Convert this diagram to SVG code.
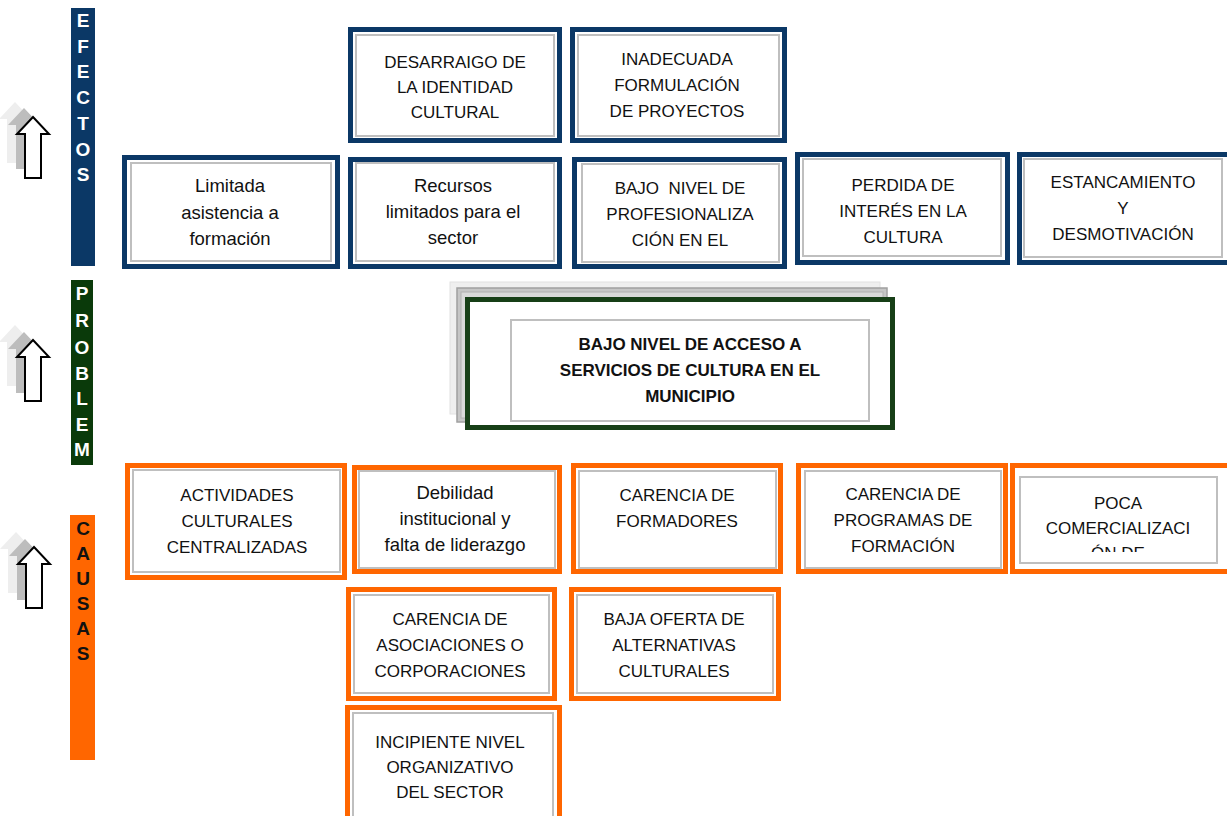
<svg xmlns="http://www.w3.org/2000/svg" width="1227" height="816" viewBox="0 0 1227 816">
<style>
.bg{fill:#ffffff}
.ob{fill:#ffffff;stroke:#0b3866;stroke-width:5}
.oo{fill:#ffffff;stroke:#ff6600;stroke-width:5}
.og{fill:#ffffff;stroke:#173f17;stroke-width:5}
.in{fill:#ffffff;stroke:#bfbfbf;stroke-width:2}
.t{font-family:"Liberation Sans",Arial,sans-serif;font-size:17px;fill:#111111;text-anchor:middle;white-space:pre}
.tl{font-family:"Liberation Sans",Arial,sans-serif;font-size:18.5px;fill:#111111;text-anchor:middle}
.tb{font-family:"Liberation Sans",Arial,sans-serif;font-size:17px;font-weight:bold;fill:#111111;text-anchor:middle}
.lbl{font-family:"Liberation Sans",Arial,sans-serif;font-size:19px;font-weight:bold;text-anchor:middle}
.arr{fill:#ffffff;stroke:#000000;stroke-width:2}
.sh1{fill:#bdbdbd}
.sh2{fill:#eeeeee}
</style>
<defs>
<path id="arrow" d="M0,0 L16,17 L8,17 L8,61 L-8,61 L-8,17 L-16,17 Z"/>
<clipPath id="cpProb"><rect x="71" y="280" width="22" height="185"/></clipPath>
<clipPath id="cpPoca"><rect x="1020" y="477" width="197" height="75"/></clipPath>
</defs>
<rect class="bg" x="0" y="0" width="1227" height="816"/>

<g id="arrows">
<use href="#arrow" class="sh2" transform="translate(15,102)"/>
<use href="#arrow" class="sh1" transform="translate(24,108)"/>
<use href="#arrow" class="arr" transform="translate(33,117)"/>
<use href="#arrow" class="sh2" transform="translate(15,325)"/>
<use href="#arrow" class="sh1" transform="translate(24,332)"/>
<use href="#arrow" class="arr" transform="translate(33,340)"/>
<use href="#arrow" class="sh2" transform="translate(16,532)"/>
<use href="#arrow" class="sh1" transform="translate(25,539)"/>
<use href="#arrow" class="arr" transform="translate(34,547)"/>
</g>

<g id="label-efectos">
<rect x="71" y="8" width="24" height="258" fill="#0b3866"/>
<g class="lbl" fill="#ffffff">
<text x="83" y="27">E</text><text x="83" y="53">F</text><text x="83" y="78">E</text><text x="83" y="104">C</text><text x="83" y="130">T</text><text x="83" y="156">O</text><text x="83" y="181">S</text>
</g>
</g>
<g id="label-problema">
<rect x="71" y="280" width="22" height="185" fill="#0a3a0a"/>
<g class="lbl" fill="#ffffff" clip-path="url(#cpProb)">
<text x="82" y="300">P</text><text x="82" y="327">R</text><text x="82" y="354">O</text><text x="82" y="380">B</text><text x="82" y="405">L</text><text x="82" y="431">E</text><text x="82" y="456">M</text><text x="82" y="478">A</text>
</g>
</g>
<g id="label-causas">
<rect x="70" y="515" width="25" height="245" fill="#ff6600"/>
<g class="lbl" fill="#111111">
<text x="83" y="535">C</text><text x="83" y="560">A</text><text x="83" y="585">U</text><text x="83" y="610">S</text><text x="83" y="635">A</text><text x="83" y="660">S</text>
</g>
</g>

<g id="connectors"></g>

<g id="e1">
<rect class="ob" x="350.5" y="29.5" width="209" height="111"/>
<rect class="in" x="356" y="35" width="198" height="101"/>
<text class="t" x="455" y="68">DESARRAIGO DE</text><text class="t" x="455" y="93">LA IDENTIDAD</text><text class="t" x="455" y="118">CULTURAL</text>
</g>
<g id="e2">
<rect class="ob" x="572.5" y="29.5" width="212" height="111"/>
<rect class="in" x="578" y="35" width="201" height="101"/>
<text class="t" x="677" y="65">INADECUADA</text><text class="t" x="677" y="91">FORMULACIÓN</text><text class="t" x="677" y="117">DE PROYECTOS</text>
</g>
<g id="e3">
<rect class="ob" x="124.5" y="157.5" width="213" height="109"/>
<rect class="in" x="131" y="163" width="200" height="98"/>
<text class="tl" x="230" y="192">Limitada</text><text class="tl" x="230" y="219">asistencia a</text><text class="tl" x="230" y="245">formación</text>
</g>
<g id="e4">
<rect class="ob" x="350.5" y="159.5" width="209" height="107"/>
<rect class="in" x="356" y="163" width="198" height="98"/>
<text class="tl" x="453" y="192">Recursos</text><text class="tl" x="453" y="218">limitados para el</text><text class="tl" x="453" y="244">sector</text>
</g>
<g id="e5">
<rect class="ob" x="574.5" y="159.5" width="210" height="107"/>
<rect class="in" x="582" y="164" width="197" height="98"/>
<text class="t" x="680" y="194">BAJO  NIVEL DE</text><text class="t" x="680" y="220">PROFESIONALIZA</text><text class="t" x="680" y="246">CIÓN EN EL</text>
</g>
<g id="e6">
<rect class="ob" x="797.5" y="154.5" width="210" height="108"/>
<rect class="in" x="803" y="159" width="198" height="97"/>
<text class="t" x="903" y="191">PERDIDA DE</text><text class="t" x="903" y="217">INTERÉS EN LA</text><text class="t" x="903" y="243">CULTURA</text>
</g>
<g id="e7">
<rect class="ob" x="1019.5" y="154.5" width="210" height="108"/>
<rect class="in" x="1024" y="159" width="198" height="98"/>
<text class="t" x="1123" y="188">ESTANCAMIENTO</text><text class="t" x="1123" y="214">Y</text><text class="t" x="1123" y="240">DESMOTIVACIÓN</text>
</g>

<g id="problem">
<rect x="450" y="282" width="430" height="132" fill="#efefef" stroke="#e2e2e2" stroke-width="1"/>
<rect x="457" y="288" width="430" height="134" fill="#c6c6c6" stroke="#a0a0a0" stroke-width="1.5"/>
<rect x="461" y="292" width="422" height="126" fill="#d9d9d9" stroke="#b0b0b0" stroke-width="1"/>
<rect class="og" x="467.5" y="299.5" width="425" height="128"/>
<rect class="in" x="511" y="320" width="358" height="101"/>
<text class="tb" x="690" y="350">BAJO NIVEL DE ACCESO A</text><text class="tb" x="690" y="376">SERVICIOS DE CULTURA EN EL</text><text class="tb" x="690" y="402">MUNICIPIO</text>
</g>

<g id="c1">
<rect class="oo" x="127.5" y="465.5" width="217" height="112"/>
<rect class="in" x="133" y="470" width="207" height="102"/>
<text class="t" x="237" y="501">ACTIVIDADES</text><text class="t" x="237" y="527">CULTURALES</text><text class="t" x="237" y="553">CENTRALIZADAS</text>
</g>
<g id="c2">
<rect class="oo" x="354.5" y="467.5" width="205" height="104"/>
<rect class="in" x="359" y="471" width="196" height="97"/>
<text class="tl" x="455" y="499">Debilidad</text><text class="tl" x="455" y="525">institucional y</text><text class="tl" x="455" y="551">falta de liderazgo</text>
</g>
<g id="c3">
<rect class="oo" x="573.5" y="465.5" width="207" height="106"/>
<rect class="in" x="579" y="471" width="197" height="97"/>
<text class="t" x="677" y="501">CARENCIA DE</text><text class="t" x="677" y="527">FORMADORES</text>
</g>
<g id="c4">
<rect class="oo" x="798.5" y="465.5" width="207" height="106"/>
<rect class="in" x="805" y="471" width="196" height="97"/>
<text class="t" x="903" y="500">CARENCIA DE</text><text class="t" x="903" y="526">PROGRAMAS DE</text><text class="t" x="903" y="552">FORMACIÓN</text>
</g>
<g id="c5">
<rect class="oo" x="1012.5" y="465.5" width="220" height="106"/>
<rect class="in" x="1020" y="477" width="197" height="86"/>
<g clip-path="url(#cpPoca)">
<text class="t" x="1118" y="509">POCA</text><text class="t" x="1118" y="534">COMERCIALIZACI</text><text class="t" x="1118" y="559">ÓN DE</text>
</g>
</g>
<g id="c6">
<rect class="oo" x="348.5" y="589.5" width="206" height="109"/>
<rect class="in" x="354" y="595" width="195" height="98"/>
<text class="t" x="450" y="625">CARENCIA DE</text><text class="t" x="450" y="651">ASOCIACIONES O</text><text class="t" x="450" y="677">CORPORACIONES</text>
</g>
<g id="c7">
<rect class="oo" x="571.5" y="589.5" width="207" height="109"/>
<rect class="in" x="577" y="595" width="196" height="98"/>
<text class="t" x="674" y="625">BAJA OFERTA DE</text><text class="t" x="674" y="651">ALTERNATIVAS</text><text class="t" x="674" y="677">CULTURALES</text>
</g>
<g id="c8">
<rect class="oo" x="347.5" y="707.5" width="212" height="120"/>
<rect class="in" x="353" y="713" width="200" height="110"/>
<text class="t" x="450" y="748">INCIPIENTE NIVEL</text><text class="t" x="450" y="773">ORGANIZATIVO</text><text class="t" x="450" y="798">DEL SECTOR</text>
</g>
</svg>
